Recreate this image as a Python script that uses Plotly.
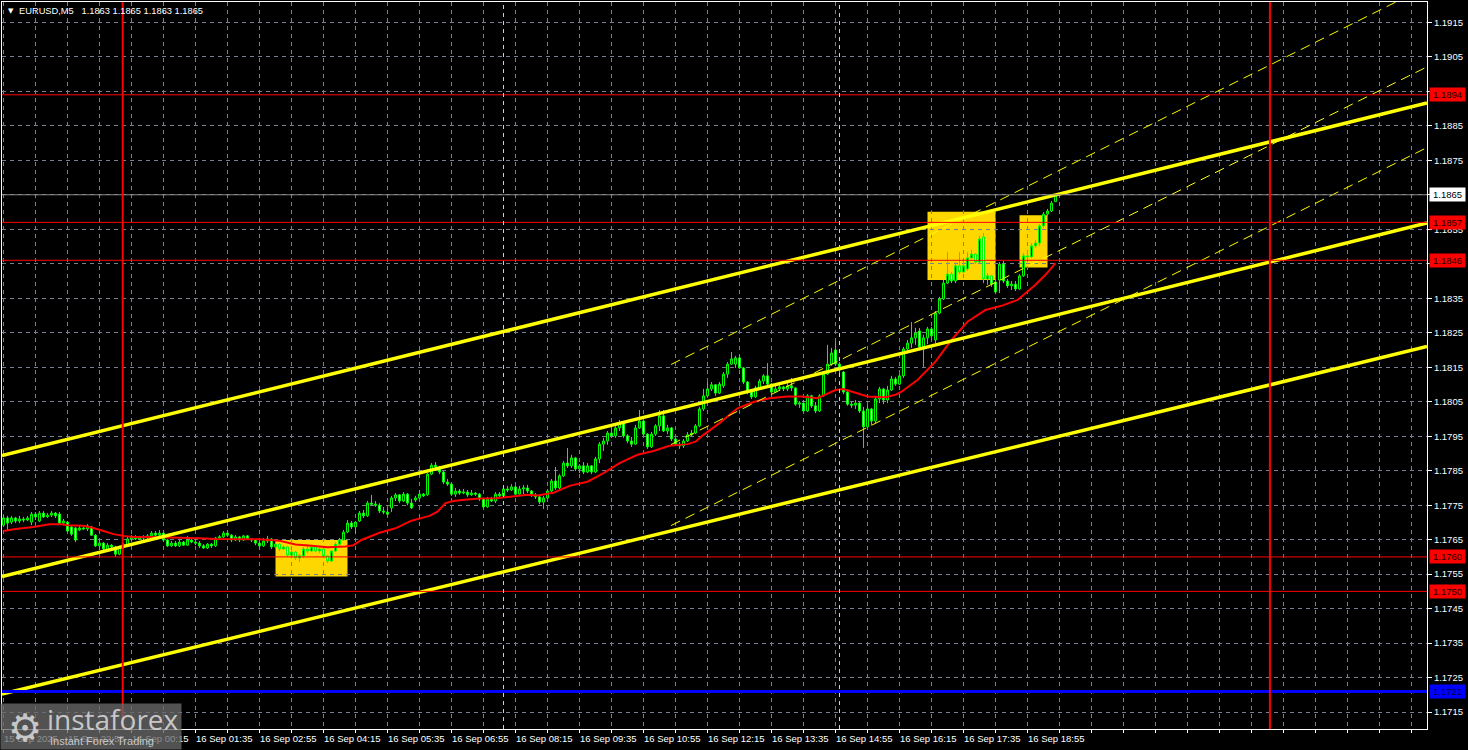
import plotly.graph_objects as go

# ---------------- data ----------------
OPEN = [1.17692,1.17713,1.17701,1.17713,1.17704,1.17710,1.17707,1.17701,1.17724,1.17704,1.17727,1.17716,
 1.17721,1.17727,1.17724,1.17698,1.17701,1.17687,1.17684,1.17678,1.17684,1.17681,1.17687,1.17663,
 1.17632,1.17640,1.17623,1.17634,1.17629,1.17608,1.17629,1.17632,1.17652,1.17658,1.17652,1.17658,
 1.17655,1.17661,1.17669,1.17663,1.17669,1.17649,1.17632,1.17640,1.17632,1.17643,1.17634,1.17649,
 1.17643,1.17640,1.17632,1.17626,1.17637,1.17632,1.17655,1.17658,1.17669,1.17663,1.17649,1.17658,
 1.17649,1.17661,1.17652,1.17649,1.17640,1.17632,1.17646,1.17652,1.17629,1.17637,1.17623,1.17629,
 1.17605,1.17614,1.17597,1.17603,1.17623,1.17617,1.17629,1.17617,1.17623,1.17603,1.17588,1.17617,
 1.17637,1.17649,1.17672,1.17698,1.17687,1.17704,1.17727,1.17719,1.17756,1.17753,1.17750,1.17733,
 1.17730,1.17742,1.17771,1.17780,1.17762,1.17782,1.17756,1.17765,1.17771,1.17782,1.17780,1.17840,
 1.17866,1.17861,1.17846,1.17817,1.17811,1.17782,1.17791,1.17785,1.17788,1.17780,1.17785,1.17782,
 1.17768,1.17745,1.17768,1.17762,1.17782,1.17777,1.17797,1.17794,1.17803,1.17782,1.17797,1.17800,
 1.17791,1.17780,1.17774,1.17759,1.17771,1.17791,1.17820,1.17800,1.17835,1.17872,1.17864,1.17887,
 1.17855,1.17864,1.17846,1.17864,1.17846,1.17884,1.17927,1.17936,1.17959,1.17951,1.17974,1.17988,
 1.17951,1.17936,1.17927,1.17974,1.17994,1.17956,1.17919,1.17956,1.17980,1.18009,1.17965,1.17974,
 1.17942,1.17927,1.17922,1.17936,1.17954,1.17959,1.17980,1.18029,1.18067,1.18087,1.18099,1.18075,
 1.18096,1.18130,1.18159,1.18159,1.18177,1.18148,1.18107,1.18078,1.18064,1.18090,1.18110,1.18125,
 1.18101,1.18078,1.18087,1.18093,1.18087,1.18096,1.18090,1.18043,1.18046,1.18023,1.18067,1.18038,
 1.18023,1.18067,1.18130,1.18159,1.18200,1.18159,1.18136,1.18078,1.18043,1.18040,1.18046,1.18023,
 1.17977,1.18029,1.17994,1.18058,1.18087,1.18055,1.18084,1.18116,1.18101,1.18125,1.18203,1.18220,
 1.18235,1.18255,1.18209,1.18235,1.18261,1.18229,1.18307,1.18348,1.18394,1.18420,1.18400,1.18444,
 1.18426,1.18435,1.18467,1.18478,1.18455,1.18528,1.18406,1.18415,1.18397,1.18403,1.18449,1.18400,
 1.18386,1.18391,1.18377,1.18415,1.18473,1.18470,1.18502,1.18510,1.18560,1.18594,1.18603,1.18630]

HIGH = [1.17721,1.17719,1.17719,1.17716,1.17719,1.17716,1.17719,1.17730,1.17730,1.17733,1.17733,1.17727,
 1.17733,1.17730,1.17730,1.17710,1.17704,1.17690,1.17687,1.17690,1.17687,1.17695,1.17690,1.17666,
 1.17649,1.17643,1.17640,1.17637,1.17632,1.17632,1.17640,1.17658,1.17663,1.17663,1.17661,1.17663,
 1.17666,1.17675,1.17675,1.17678,1.17672,1.17652,1.17646,1.17646,1.17649,1.17646,1.17661,1.17655,
 1.17652,1.17646,1.17637,1.17640,1.17640,1.17658,1.17663,1.17675,1.17675,1.17666,1.17663,1.17661,
 1.17663,1.17663,1.17655,1.17652,1.17649,1.17655,1.17661,1.17655,1.17643,1.17640,1.17634,1.17632,
 1.17620,1.17617,1.17608,1.17629,1.17632,1.17634,1.17632,1.17629,1.17626,1.17605,1.17620,1.17643,
 1.17655,1.17678,1.17707,1.17704,1.17704,1.17733,1.17736,1.17762,1.17780,1.17762,1.17756,1.17745,
 1.17739,1.17777,1.17785,1.17782,1.17788,1.17785,1.17768,1.17777,1.17794,1.17785,1.17843,1.17872,
 1.17875,1.17864,1.17849,1.17826,1.17814,1.17800,1.17797,1.17797,1.17794,1.17794,1.17788,1.17785,
 1.17771,1.17774,1.17774,1.17788,1.17788,1.17803,1.17806,1.17811,1.17806,1.17806,1.17809,1.17809,
 1.17794,1.17785,1.17777,1.17777,1.17797,1.17826,1.17861,1.17840,1.17878,1.17916,1.17896,1.17890,
 1.17869,1.17875,1.17872,1.17866,1.17890,1.17933,1.17945,1.17965,1.17977,1.17980,1.17997,1.17991,
 1.17956,1.17948,1.17983,1.18026,1.17997,1.17959,1.17962,1.17985,1.18026,1.18026,1.17983,1.17977,
 1.17945,1.17933,1.17942,1.17962,1.17968,1.17985,1.18035,1.18087,1.18107,1.18107,1.18101,1.18107,
 1.18136,1.18165,1.18194,1.18183,1.18185,1.18151,1.18110,1.18084,1.18096,1.18116,1.18130,1.18162,
 1.18104,1.18096,1.18099,1.18096,1.18104,1.18119,1.18093,1.18052,1.18055,1.18072,1.18070,1.18049,
 1.18072,1.18136,1.18215,1.18206,1.18223,1.18165,1.18139,1.18081,1.18052,1.18055,1.18049,1.18035,
 1.18038,1.18032,1.18064,1.18093,1.18090,1.18096,1.18125,1.18122,1.18130,1.18209,1.18229,1.18281,
 1.18264,1.18264,1.18244,1.18267,1.18267,1.18313,1.18354,1.18403,1.18484,1.18426,1.18455,1.18484,
 1.18455,1.18484,1.18490,1.18481,1.18531,1.18539,1.18423,1.18418,1.18406,1.18455,1.18458,1.18406,
 1.18400,1.18400,1.18420,1.18481,1.18487,1.18510,1.18519,1.18565,1.18600,1.18609,1.18632,1.18650]

LOW = [1.17687,1.17678,1.17695,1.17698,1.17698,1.17701,1.17704,1.17692,1.17707,1.17701,1.17713,1.17713,
 1.17716,1.17713,1.17695,1.17692,1.17672,1.17661,1.17643,1.17675,1.17678,1.17675,1.17661,1.17629,
 1.17620,1.17620,1.17620,1.17626,1.17600,1.17605,1.17623,1.17629,1.17646,1.17649,1.17649,1.17649,
 1.17652,1.17658,1.17661,1.17661,1.17643,1.17629,1.17629,1.17629,1.17629,1.17632,1.17632,1.17640,
 1.17634,1.17626,1.17623,1.17623,1.17626,1.17629,1.17649,1.17655,1.17658,1.17643,1.17646,1.17643,
 1.17646,1.17649,1.17643,1.17634,1.17626,1.17629,1.17640,1.17623,1.17626,1.17617,1.17620,1.17600,
 1.17600,1.17591,1.17585,1.17597,1.17611,1.17614,1.17614,1.17611,1.17597,1.17582,1.17585,1.17614,
 1.17632,1.17646,1.17669,1.17681,1.17666,1.17701,1.17713,1.17716,1.17748,1.17745,1.17727,1.17724,
 1.17719,1.17730,1.17762,1.17756,1.17759,1.17750,1.17739,1.17759,1.17768,1.17774,1.17777,1.17837,
 1.17855,1.17840,1.17811,1.17806,1.17777,1.17774,1.17780,1.17782,1.17774,1.17777,1.17777,1.17762,
 1.17739,1.17742,1.17759,1.17756,1.17774,1.17774,1.17788,1.17791,1.17780,1.17780,1.17782,1.17785,
 1.17774,1.17768,1.17753,1.17739,1.17768,1.17788,1.17794,1.17797,1.17832,1.17858,1.17858,1.17849,
 1.17843,1.17840,1.17843,1.17840,1.17843,1.17872,1.17907,1.17925,1.17945,1.17945,1.17965,1.17945,
 1.17930,1.17919,1.17925,1.17971,1.17951,1.17913,1.17916,1.17951,1.17965,1.17962,1.17956,1.17936,
 1.17922,1.17913,1.17916,1.17933,1.17948,1.17956,1.17977,1.18023,1.18064,1.18081,1.18067,1.18072,
 1.18090,1.18119,1.18157,1.18148,1.18145,1.18101,1.18072,1.18058,1.18061,1.18087,1.18101,1.18096,
 1.18072,1.18075,1.18081,1.18081,1.18081,1.18081,1.18038,1.18032,1.18020,1.18020,1.18032,1.18017,
 1.18020,1.18064,1.18128,1.18154,1.18154,1.18133,1.18072,1.18038,1.18032,1.18029,1.18017,1.17916,
 1.17974,1.17983,1.17988,1.18046,1.18043,1.18046,1.18081,1.18096,1.18099,1.18119,1.18200,1.18206,
 1.18215,1.18203,1.18151,1.18217,1.18229,1.18220,1.18304,1.18345,1.18391,1.18394,1.18394,1.18420,
 1.18423,1.18429,1.18464,1.18449,1.18452,1.18394,1.18389,1.18383,1.18362,1.18365,1.18394,1.18380,
 1.18374,1.18371,1.18374,1.18412,1.18464,1.18467,1.18496,1.18502,1.18554,1.18589,1.18600,1.18630]

CLOSE = [1.17713,1.17698,1.17713,1.17704,1.17710,1.17707,1.17713,1.17724,1.17716,1.17727,1.17716,1.17721,
 1.17727,1.17719,1.17698,1.17704,1.17675,1.17666,1.17649,1.17684,1.17681,1.17690,1.17663,1.17632,
 1.17640,1.17623,1.17634,1.17629,1.17608,1.17629,1.17634,1.17652,1.17658,1.17652,1.17658,1.17655,
 1.17661,1.17669,1.17663,1.17669,1.17649,1.17632,1.17640,1.17632,1.17643,1.17634,1.17649,1.17643,
 1.17640,1.17632,1.17626,1.17637,1.17632,1.17655,1.17658,1.17669,1.17663,1.17649,1.17658,1.17649,
 1.17661,1.17652,1.17649,1.17640,1.17632,1.17646,1.17652,1.17629,1.17637,1.17623,1.17629,1.17605,
 1.17614,1.17597,1.17603,1.17623,1.17617,1.17629,1.17617,1.17623,1.17603,1.17588,1.17617,1.17637,
 1.17649,1.17672,1.17698,1.17687,1.17701,1.17727,1.17719,1.17756,1.17753,1.17750,1.17733,1.17730,
 1.17724,1.17771,1.17780,1.17762,1.17782,1.17756,1.17742,1.17771,1.17782,1.17777,1.17840,1.17866,
 1.17861,1.17846,1.17817,1.17811,1.17782,1.17791,1.17785,1.17788,1.17780,1.17785,1.17782,1.17768,
 1.17745,1.17768,1.17762,1.17782,1.17777,1.17797,1.17794,1.17803,1.17782,1.17797,1.17800,1.17791,
 1.17780,1.17774,1.17759,1.17771,1.17791,1.17820,1.17800,1.17835,1.17872,1.17864,1.17887,1.17855,
 1.17864,1.17846,1.17864,1.17846,1.17884,1.17927,1.17936,1.17959,1.17951,1.17974,1.17988,1.17951,
 1.17936,1.17927,1.17974,1.17994,1.17956,1.17919,1.17956,1.17980,1.18009,1.17965,1.17974,1.17942,
 1.17927,1.17922,1.17936,1.17954,1.17959,1.17980,1.18029,1.18067,1.18087,1.18099,1.18075,1.18101,
 1.18130,1.18159,1.18174,1.18177,1.18148,1.18107,1.18078,1.18064,1.18090,1.18110,1.18125,1.18101,
 1.18078,1.18087,1.18093,1.18087,1.18096,1.18090,1.18043,1.18046,1.18023,1.18067,1.18038,1.18023,
 1.18067,1.18130,1.18159,1.18191,1.18159,1.18142,1.18078,1.18043,1.18040,1.18046,1.18023,1.17977,
 1.18029,1.17994,1.18058,1.18087,1.18055,1.18084,1.18116,1.18101,1.18125,1.18203,1.18220,1.18235,
 1.18249,1.18209,1.18235,1.18261,1.18241,1.18307,1.18348,1.18394,1.18420,1.18400,1.18444,1.18426,
 1.18444,1.18467,1.18478,1.18455,1.18522,1.18406,1.18415,1.18391,1.18368,1.18449,1.18400,1.18386,
 1.18391,1.18377,1.18415,1.18473,1.18470,1.18502,1.18510,1.18560,1.18594,1.18603,1.18626,1.18650]

BARS = list(range(len(CLOSE)))

# moving average line (read at sampled bar positions)
MA_X = [0, 3, 7.5, 11.5, 14.5, 16, 20, 22.5, 25, 27.5, 30, 32.5, 36.5, 41, 45, 49, 53, 57.5, 61.5, 64,
        69, 73, 77, 81, 85.5, 87.5, 89.5, 94, 98, 102, 106.5, 108.5, 110.5, 112.5, 114.5, 119, 123, 127,
        131, 133.5, 137.5, 141.5, 146, 150, 154, 158.5, 162.5, 166.5, 171, 173, 175, 179, 183.5, 187.5,
        191.5, 196, 199.5, 203.5, 208, 210, 212, 216, 220.5, 223, 224.5, 228.5, 233, 237, 241, 245.5,
        249.5, 253.5, 258, 260.5, 263]
MA_Y = [1.17675, 1.17681, 1.17687, 1.17695, 1.17695, 1.17692, 1.17690, 1.17684, 1.17675, 1.17666, 1.17661,
        1.17658, 1.17658, 1.17657, 1.17656, 1.17654, 1.17652, 1.17652, 1.17652, 1.17651,
        1.17647, 1.17636, 1.17632, 1.17628, 1.17630, 1.17634, 1.17649, 1.17670, 1.17683, 1.17705, 1.17719,
        1.17731, 1.17756, 1.17762, 1.17765, 1.17769, 1.17770, 1.17775,
        1.17780, 1.17778, 1.17786, 1.17806, 1.17818, 1.17843, 1.17872, 1.17896, 1.17907, 1.17922, 1.17927,
        1.17934, 1.17954, 1.17988, 1.18031, 1.18049,
        1.18060, 1.18065, 1.18065, 1.18060, 1.18084, 1.18087, 1.18079, 1.18065, 1.18063, 1.18070, 1.18079,
        1.18113, 1.18166, 1.18229, 1.18282, 1.18316,
        1.18328, 1.18345, 1.18389, 1.18418, 1.18452]

# time axis labels (bar index of each label)
X_LABEL_POS = [0, 16, 32, 48, 64, 80, 96, 112, 128, 144, 160, 176, 192, 208, 224, 240, 256]
X_LABELS = ["15 Sep 2025", "15 Sep 22:55", "16 Sep 00:15", "16 Sep 01:35", "16 Sep 02:55",
            "16 Sep 04:15", "16 Sep 05:35", "16 Sep 06:55", "16 Sep 08:15", "16 Sep 09:35",
            "16 Sep 10:55", "16 Sep 12:15", "16 Sep 13:35", "16 Sep 14:55", "16 Sep 16:15",
            "16 Sep 17:35", "16 Sep 18:55"]

Y_TICKS = [1.1715, 1.1725, 1.1735, 1.1745, 1.1755, 1.1765, 1.1775, 1.1785, 1.1795, 1.1805, 1.1815,
           1.1825, 1.1835, 1.1845, 1.1855, 1.1865, 1.1875, 1.1885, 1.1895, 1.1905, 1.1915]

# horizontal levels
RED_LEVELS = [1.1894, 1.1857, 1.1846, 1.1760, 1.1750]
BLUE_LEVEL = 1.1721
PRICE_LEVEL = 1.1865

# vertical markers (bar index)
RED_VLINES = [29.8, 316.6]
LIME_VLINES = [125, 209]

# yellow rectangles (bar index span, price span)
RECT_X0 = [68, 231, 254]
RECT_X1 = [86, 248, 261]
RECT_Y0 = [1.17543, 1.18403, 1.18439]
RECT_Y1 = [1.17649, 1.18601, 1.18591]

# equidistant channel (thick yellow) and regression channel (dashed yellow)
CHANNEL_X = [-0.375, 355.875]
CHANNEL_UPPER = [1.17894, 1.18916]
CHANNEL_MIDDLE = [1.17543, 1.18568]
CHANNEL_LOWER = [1.17202, 1.18210]
REG_X = [166.9, 355.875]
REG_UPPER = [1.18158, 1.19254]
REG_MIDDLE = [1.17926, 1.19021]
REG_LOWER = [1.17691, 1.18787]

TITLE = "EURUSD,M5\u00a0\u00a0 1.1863 1.1865 1.1863 1.1865"

# ---------------- layout helpers (pixel -> paper) ----------------
W, H = 1468, 750
ML, MR, MT, MB = 2, 41, 2, 21
PW, PH = W - ML - MR, H - MT - MB


def px_x(px):
    return (px - ML) / PW


def px_y(py):
    return (H - MB - py) / PH


FONT = "Liberation Sans, Arial, sans-serif"
GRID = "#77808f"

fig = go.Figure()

fig.add_trace(go.Candlestick(
    x=BARS, open=OPEN, high=HIGH, low=LOW, close=CLOSE,
    increasing=dict(line=dict(color="#00ff00", width=1), fillcolor="#000000"),
    decreasing=dict(line=dict(color="#00ff00", width=1), fillcolor="#ffffff"),
    whiskerwidth=0, hoverinfo="skip", showlegend=False,
))

fig.add_trace(go.Scatter(x=MA_X, y=MA_Y, mode="lines",
                         line=dict(color="#ff0000", width=2), hoverinfo="skip"))

for ys in (CHANNEL_UPPER, CHANNEL_MIDDLE, CHANNEL_LOWER):
    fig.add_trace(go.Scatter(x=CHANNEL_X, y=ys, mode="lines",
                             line=dict(color="#ffff00", width=3.5), hoverinfo="skip"))
for ys in (REG_UPPER, REG_MIDDLE, REG_LOWER):
    fig.add_trace(go.Scatter(x=REG_X, y=ys, mode="lines",
                             line=dict(color="#ffff00", width=1, dash="10px,6px"), hoverinfo="skip"))

shapes = []
for x0, x1, y0, y1 in zip(RECT_X0, RECT_X1, RECT_Y0, RECT_Y1):
    shapes.append(dict(type="rect", xref="x", yref="y", x0=x0, x1=x1, y0=y0, y1=y1,
                       fillcolor="#ffd700", line=dict(width=0), layer="below"))
for lv in RED_LEVELS:
    shapes.append(dict(type="line", xref="paper", x0=0, x1=1, yref="y", y0=lv, y1=lv,
                       line=dict(color="#ff0000", width=1), layer="above"))
shapes.append(dict(type="line", xref="paper", x0=0, x1=1, yref="y", y0=PRICE_LEVEL, y1=PRICE_LEVEL,
                   line=dict(color="#8c8c8c", width=1), layer="above"))
shapes.append(dict(type="line", xref="paper", x0=0, x1=1, yref="y", y0=BLUE_LEVEL, y1=BLUE_LEVEL,
                   line=dict(color="#0000ff", width=3), layer="above"))
for xv in LIME_VLINES:
    shapes.append(dict(type="line", xref="x", x0=xv, x1=xv, yref="paper", y0=0, y1=1,
                       line=dict(color="#adff2f", width=1, dash="4px,4px"), layer="above"))
for xv in RED_VLINES:
    shapes.append(dict(type="line", xref="x", x0=xv, x1=xv, yref="paper", y0=0, y1=1,
                       line=dict(color="#ff0000", width=2), layer="above"))

ann = []
# title
ann.append(dict(xref="paper", yref="paper", x=px_x(6), y=px_y(11), xanchor="left", yanchor="middle",
                text="\u25bc", showarrow=False, font=dict(family="DejaVu Sans", size=7, color="white")))
ann.append(dict(xref="paper", yref="paper", x=px_x(17), y=px_y(11), xanchor="left", yanchor="middle",
                text=TITLE, showarrow=False, font=dict(family=FONT, size=9.3, color="white")))
# time labels
for pos, lab in zip(X_LABEL_POS, X_LABELS):
    ann.append(dict(xref="x", yref="paper", x=pos, y=px_y(738.5), xanchor="left", yanchor="middle",
                    xshift=-2, text=lab, showarrow=False, font=dict(family=FONT, size=9.5, color="white")))


def level_label(val, bg, fg):
    return dict(xref="paper", yref="y", x=px_x(1429), y=val, xanchor="left", yanchor="middle",
                text=f"{val:.4f}", showarrow=False, bgcolor=bg, width=33, height=11, borderpad=1,
                font=dict(family=FONT, size=9.5, color=fg))


for lv in RED_LEVELS:
    ann.append(level_label(lv, "#ff0000", "#200000"))
ann.append(level_label(BLUE_LEVEL, "#0000ff", "#000040"))
ann.append(level_label(PRICE_LEVEL, "#ffffff", "#000000"))

# watermark logo
ann.append(dict(xref="paper", yref="paper", x=px_x(0), y=px_y(750), xanchor="left", yanchor="bottom",
                text=" ", showarrow=False, width=180, height=45, borderpad=0,
                bgcolor="rgba(105,105,105,0.78)"))
ann.append(dict(xref="paper", yref="paper", x=px_x(25), y=px_y(728), xanchor="center", yanchor="middle",
                text="\u2699", showarrow=False,
                font=dict(family="DejaVu Sans", size=38, color="rgba(215,215,215,0.9)")))
ann.append(dict(xref="paper", yref="paper", x=px_x(45), y=px_y(719), xanchor="left", yanchor="middle",
                text="instaforex", showarrow=False,
                font=dict(family="Open Sans, Liberation Sans", size=28, color="rgba(215,215,215,0.9)")))
ann.append(dict(xref="paper", yref="paper", x=px_x(48), y=px_y(741), xanchor="left", yanchor="middle",
                text="Instant Forex Trading", showarrow=False,
                font=dict(family=FONT, size=11, color="rgba(215,215,215,0.9)")))

fig.update_layout(
    width=W, height=H,
    margin=dict(l=ML, r=MR, t=MT, b=MB, pad=0),
    paper_bgcolor="#000000", plot_bgcolor="#000000",
    showlegend=False, dragmode=False,
    font=dict(family=FONT, size=10, color="white"),
    shapes=shapes, annotations=ann,
    xaxis=dict(range=[-0.375, 355.875], tickmode="linear", tick0=0, dtick=8,
               showgrid=True, gridcolor=GRID, gridwidth=1, griddash="4px,4px",
               ticks="outside", ticklen=3, tickcolor="white", showticklabels=False,
               showline=True, linecolor="white", linewidth=1, mirror=True, zeroline=False,
               rangeslider=dict(visible=False), fixedrange=True),
    yaxis=dict(range=[1.17101, 1.19209], side="right", tickmode="array",
               tickvals=Y_TICKS, ticktext=[f"{v:.4f}" for v in Y_TICKS],
               tickfont=dict(family=FONT, size=9.5, color="white"),
               showgrid=True, gridcolor=GRID, gridwidth=1, griddash="4px,4px",
               ticks="outside", ticklen=4, tickcolor="white",
               showline=True, linecolor="white", linewidth=1, mirror=True, zeroline=False,
               fixedrange=True),
)

fig.write_html("out.html", config={"displayModeBar": False},
               post_script="document.body.style.margin='0px';document.body.style.overflow='hidden';")
